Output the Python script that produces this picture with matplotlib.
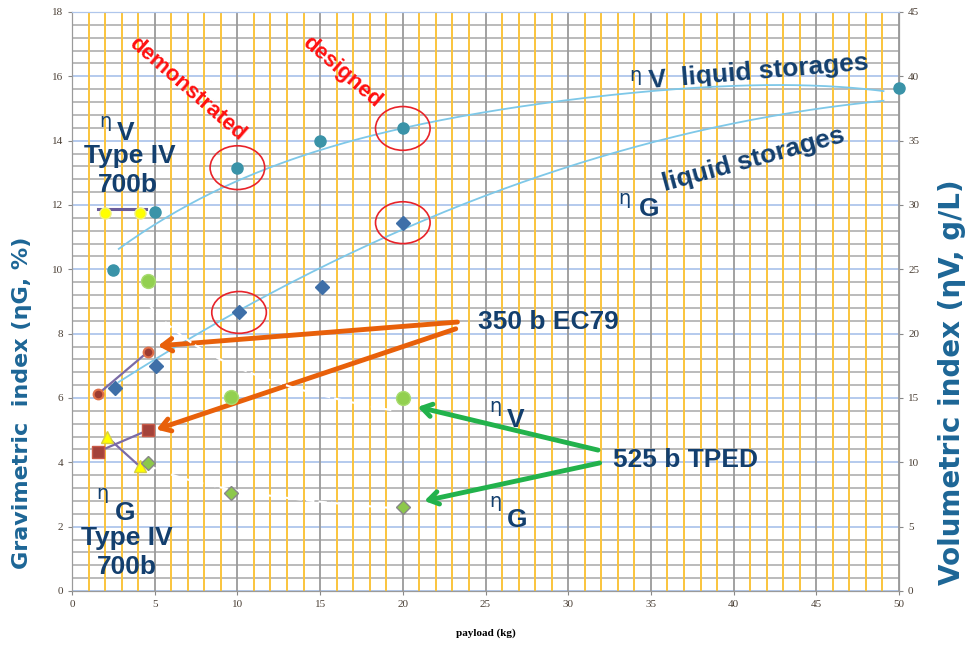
import matplotlib
matplotlib.use("Agg")
import matplotlib.pyplot as plt
import numpy as np
from matplotlib.patches import Ellipse
from matplotlib.ticker import MultipleLocator

# ---- data ----
# liquid storages (eta_V in g/L on right axis, eta_G in % on left axis)
liq_x = [2.5, 5, 10, 15, 20, 50]
liq_v = [24.95, 29.45, 32.9, 35.0, 35.95, 39.1]
liq_gx = [2.6, 5.1, 10.1, 15.1, 20]
liq_g = [6.32, 7.0, 8.66, 9.45, 11.45]
circled = [2, 4]      # points inside the red ellipses

# trendlines of the liquid storages
trend_vx = [2.83, 5.26, 10.04, 17.46, 20, 25, 30, 35, 40, 45, 49.06]
trend_v = [26.35, 28.98, 32.05, 34.88, 35.75, 37.43, 38.35, 38.88, 39.13,
           39.18, 38.93]
trend_gx = [2.83, 5, 10.1, 18.57, 20, 25, 30, 35, 40, 45, 49.06]
trend_g = [6.39, 7.27, 8.8, 10.88, 11.24, 12.29, 13.19, 13.92, 14.52, 14.97,
           15.27]

# Type IV 700 bar
t4_vx = [2.0, 4.1]
t4_v = [29.4, 29.4]
t4_gx = [2.1, 4.1]
t4_g = [4.8, 3.87]

# 350 bar EC79
ec_vx = [1.57, 4.6]
ec_v = [15.3, 18.6]
ec_gx = [1.57, 4.6]
ec_g = [4.33, 5.0]

# 525 bar TPED
tp_x = [4.6, 9.6, 20.0]
tp_v = [24.1, 15.1, 15.0]
tp_g = [3.98, 3.05, 2.6]

orange = "#E8600A"
green = "#22B24C"
navy = "#133F6E"
axblue = "#1D6696"

fig = plt.figure(figsize=(9.69, 6.51), dpi=100)
ax = fig.add_axes([0.0743, 0.0922, 0.8535, 0.8894])
ax2 = ax.twinx()

ax.set_xlim(0, 50)
ax.set_ylim(0, 18)
ax2.set_ylim(0, 45)

# grid: orange every kg, gray every 5 kg; gray every 1 g/L, blue every 5 g/L
ax.xaxis.set_major_locator(MultipleLocator(5))
ax.xaxis.set_minor_locator(MultipleLocator(1))
ax.yaxis.set_major_locator(MultipleLocator(2))
ax.yaxis.set_minor_locator(MultipleLocator(0.4))
ax2.yaxis.set_major_locator(MultipleLocator(5))
ax.grid(which="minor", axis="x", color="#FAC43C", lw=1.4)
ax.grid(which="major", axis="x", color="#9A9A9A", lw=1.3)
ax.grid(which="minor", axis="y", color="#A8A8A8", lw=1.1)
ax.grid(which="major", axis="y", color="#AFC6EC", lw=1.3)
ax.set_axisbelow(True)
ax.yaxis.set_zorder(0.4)   # vertical lines over the horizontal ones
ax.tick_params(which="minor", length=0)
ax.tick_params(which="major", length=3, color="#888888", labelsize=8,
               labelcolor="#4A3F35")
ax2.tick_params(length=3, color="#888888", labelsize=8, labelcolor="#4A3F35")
for a in (ax, ax2):
    for s in a.spines.values():
        s.set_color("#9A9A9A")
    a.spines["top"].set_color("#AFC6EC")
    for lab in a.get_xticklabels() + a.get_yticklabels():
        lab.set_family("Liberation Serif")

# trendlines of the liquid storages
xs = np.linspace(trend_vx[0], trend_vx[-1], 200)
pv = np.polyfit(trend_vx, trend_v, 4)
ax2.plot(xs, np.polyval(pv, xs), color="#7EC8E8", lw=1.3, zorder=2)
pg = np.polyfit(trend_gx, trend_g, 2)
ax.plot(xs, np.polyval(pg, xs), color="#7EC8E8", lw=1.3, zorder=2)

# white dashed power trendlines for the 525 bar tanks
xt = np.linspace(tp_x[0], 19.5, 100)
kv = np.polyfit(np.log(tp_x), np.log(tp_v), 1)
ax2.plot(xt, np.exp(np.polyval(kv, np.log(xt))), color="white", lw=1.5,
         ls=(0, (4, 2)), zorder=2)
kg = np.polyfit(np.log(tp_x), np.log(tp_g), 1)
ax.plot(xt, np.exp(np.polyval(kg, np.log(xt))), color="white", lw=1.5,
        ls=(0, (4, 2)), zorder=2)

# purple connecting lines
ax.plot(t4_gx, t4_g, color="#7B6BA6", lw=1.6, zorder=3)
ax.plot(ec_gx, ec_g, color="#7B6BA6", lw=1.6, zorder=3)
ax2.plot([t4_vx[0] - 0.45, t4_vx[1] + 0.4], [t4_v[0] + 0.3, t4_v[1] + 0.3],
         color="#6A5C9A", lw=2.2, zorder=3)
ax2.plot(ec_vx, ec_v, color="#7B6BA6", lw=1.6, zorder=3)

# markers
ax.plot(liq_gx, liq_g, "D", color="#3E6FA8", ms=7, zorder=4)
ax.plot(t4_gx, t4_g, "^", color="#FFFF00", mec="#D8D040", ms=9, zorder=4)
ax.plot(ec_gx, ec_g, "s", color="#A3423A", mec="#C85A48", ms=8, zorder=4)
ax.plot(tp_x, tp_g, "D", color="#8CC84B", mec="#888888", ms=7, zorder=4)
ax2.plot(liq_x, liq_v, "o", color="#3A93A8", ms=8, zorder=4, clip_on=False)
ax2.plot(t4_vx, t4_v, "o", color="#FFFF00", mec="#F0F080", ms=8, zorder=4)
ax2.plot(ec_vx, ec_v, "o", color="#9B3B32", mec="#E0704A", ms=7, mew=1.5,
         zorder=4)
ax2.plot(tp_x, tp_v, "o", color="#92D050", mec="#A8DC70", ms=10, zorder=4)

# red ellipses
for i in circled:
    ax2.add_patch(Ellipse((liq_x[i], liq_v[i]), 3.3, 3.4, fill=False,
                          ec="#E8232A", lw=1.2, zorder=5))
    ax.add_patch(Ellipse((liq_gx[i], liq_g[i]), 3.3, 1.3, fill=False,
                         ec="#E8232A", lw=1.2, zorder=5))

# arrows
arw = dict(arrowstyle="->,head_length=0.7,head_width=0.45", lw=3.5,
           shrinkA=0, shrinkB=0)
ax.annotate("", xy=(5.2, 7.62), xytext=(23.3, 8.36),
            arrowprops=dict(color=orange, **arw), zorder=6)
ax.annotate("", xy=(5.1, 5.02), xytext=(23.2, 8.15),
            arrowprops=dict(color=orange, **arw), zorder=6)
ax.annotate("", xy=(20.9, 5.72), xytext=(31.8, 4.38),
            arrowprops=dict(color=green, **arw), zorder=6)
ax.annotate("", xy=(21.3, 2.8), xytext=(31.9, 3.98),
            arrowprops=dict(color=green, **arw), zorder=6)

tf = dict(color=navy, fontweight="bold", family="Liberation Sans", zorder=7)
ax.text(24.55, 8.36, "350 b EC79", fontsize=19, ha="left", va="center", **tf)
ax.text(32.7, 4.07, "525 b TPED", fontsize=19, ha="left", va="center", **tf)

red = dict(color="#FF1010", fontweight="bold", family="Liberation Sans",
           fontsize=16, rotation=-41, ha="center", va="center",
           rotation_mode="anchor", zorder=7)
ax.text(6.95, 15.62, "demonstrated", **red)
ax.text(16.3, 16.13, "designed", **red)

# eta glyphs and subscripts
eta = dict(color=navy, family="DejaVu Sans", fontsize=14, ha="center",
           va="center", zorder=7)
big = dict(color=navy, fontweight="bold", family="Liberation Sans", fontsize=19,
           zorder=7)

ax.text(34.04, 16.02, "η", **eta)
ax.text(34.89, 15.64, "V  liquid storages", rotation=4.8,
        rotation_mode="anchor", **big)
ax.text(33.4, 12.19, "η", **eta)
ax.text(34.28, 11.66, "G", **big)
ax.text(35.85, 12.43, "liquid storages", rotation=15.3,
        rotation_mode="anchor", **big)

ax.text(2.03, 14.59, "η", **eta)
ax.text(2.72, 14.02, "V", **big)
ax.text(3.5, 13.52, "Type IV", ha="center", va="center", **big)
ax.text(3.39, 12.62, "700b", ha="center", va="center", **big)
ax.text(1.84, 3.02, "η", **eta)
ax.text(2.6, 2.21, "G", **big)
ax.text(3.33, 1.65, "Type IV", ha="center", va="center", **big)
ax.text(3.33, 0.75, "700b", ha="center", va="center", **big)
ax.text(25.6, 5.75, "η", **eta)
ax.text(26.3, 5.1, "V", **big)
ax.text(25.57, 2.77, "η", **eta)
ax.text(26.3, 1.99, "G", **big)

ax.set_xlabel("payload (kg)", family="Liberation Serif", fontweight="bold",
              fontsize=8, labelpad=14)
ax.set_ylabel("Gravimetric  index (ηG, %)", color=axblue, fontweight="bold",
              fontsize=16)
ax.yaxis.set_label_coords(-0.060, 0.325)
ax.yaxis.label.set_va("center")
ax2.set_ylabel("Volumetric index (ηV, g/L)", color=axblue, fontweight="bold",
               fontsize=20)
ax2.yaxis.set_label_coords(1.064, 0.361)
ax2.yaxis.label.set_va("center")

fig.savefig("out.png", dpi=100)
